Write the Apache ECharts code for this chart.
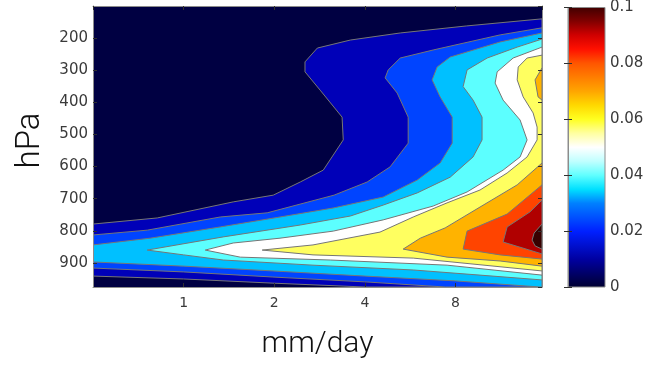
<!DOCTYPE html>
<html>
<head>
<meta charset="utf-8">
<script src="https://cdn.jsdelivr.net/npm/echarts@6/dist/echarts.min.js"></script>
<style>
  html, body { margin: 0; padding: 0; background: #ffffff; }
  #chart { width: 655px; height: 367px; }
</style>
</head>
<body>
<div id="chart"></div>
<script>
// Filled contours of the field on a (rain rate, pressure) plane.
// Every outline below encloses the area where the field is >= its level,
// given as [mm/day, hPa] points; the plot edges close each outline.

const xTicks = [1, 2, 4, 8];
const yTicks = [200, 300, 400, 500, 600, 700, 800, 900];
const colorbarTicks = [0, 0.02, 0.04, 0.06, 0.08, 0.1];

// fill colour of the band that starts at each level
const bandLevels = [0, 0.01, 0.02, 0.03, 0.04, 0.05, 0.06, 0.07, 0.08, 0.09, 0.1];
const bandColors = ['#000042', '#0000b8', '#0044ff', '#00c0ff', '#5cffff', '#ffffff',
                    '#ffff60', '#ffb300', '#ff4400', '#b00000', '#380000'];

const outline001 = [
  [15.5, 140], [8.72, 162], [5.24, 184], [3.58, 206], [2.78, 231], [2.53, 274], [2.53, 305],
  [2.84, 362], [3.36, 446], [3.39, 517], [2.91, 611], [2.44, 648], [1.985, 689], [1.461, 710],
  [0.817, 760], [0.5, 779],
  [0.5, 941], [1.0, 950], [1.98, 963], [4.0, 975], [15.5, 975]
];
const outline002 = [
  [15.5, 168], [11.25, 190], [6.74, 237], [5.24, 262], [4.78, 299], [4.67, 324], [5.12, 371],
  [5.57, 446], [5.57, 527], [4.85, 601], [4.07, 648], [3.16, 689], [1.895, 744], [1.323, 757],
  [0.757, 798], [0.5, 813],
  [0.5, 916], [1.0, 928], [1.98, 944], [4.0, 959], [7.4, 975], [15.5, 975]
];
const outline003 = [
  [15.5, 184], [11.25, 212], [7.68, 259], [6.95, 290], [6.69, 330], [7.11, 383], [7.8, 446],
  [7.8, 527], [7.11, 589], [5.97, 642], [4.6, 695], [3.14, 729], [2.09, 757], [1.323, 788],
  [0.775, 823], [0.5, 844],
  [0.5, 897], [1.0, 910], [1.98, 925], [4.0, 941], [8.0, 956], [15.27, 975], [15.5, 975]
];
const outline004 = [
  [15.5, 203], [12.82, 228], [10.19, 262], [8.74, 299], [8.48, 351], [9.15, 393], [9.8, 446],
  [9.8, 517], [9.15, 570], [7.68, 633], [5.97, 682], [4.6, 720], [3.58, 754], [2.44, 782],
  [1.354, 819], [0.757, 860],
  [1.0, 875], [1.354, 891], [2.69, 907], [5.79, 922], [9.65, 938], [15.5, 953]
];
const outline005 = [
  [15.5, 228], [12.43, 262], [11.0, 305], [10.83, 340], [11.51, 393], [13.11, 455], [13.83, 517],
  [13.11, 570], [11.51, 611], [8.74, 679], [6.74, 723], [4.6, 766], [3.14, 801], [2.09, 823],
  [1.461, 838], [1.18, 860],
  [1.542, 882], [3.07, 891], [7.5, 907], [15.5, 938]
];
const outline006 = [
  [15.5, 253], [13.83, 262], [12.92, 290], [12.82, 330], [13.42, 383], [14.48, 433], [14.93, 477],
  [14.93, 517], [13.83, 570], [11.87, 620], [9.65, 673], [7.5, 713], [5.79, 757], [4.49, 804],
  [2.69, 844], [1.824, 860],
  [2.69, 875], [5.79, 885], [15.5, 925]
];
const outline007Upper = [
  [15.5, 293], [14.7, 330], [15.04, 383], [15.5, 393]
];
const outline007 = [
  [15.5, 589], [12.82, 657], [9.65, 726], [7.39, 791], [6.11, 823], [5.36, 857],
  [7.5, 882], [11.25, 894], [15.5, 910]
];
const outline008 = [
  [15.5, 657], [11.87, 748], [8.74, 801], [8.48, 857], [11.25, 875], [15.5, 888]
];
const outline009 = [
  [15.5, 704], [14.15, 741], [11.87, 788], [11.51, 835], [15.5, 872]
];
const outline010 = [
  [15.5, 779], [14.59, 807], [14.37, 829], [14.7, 847], [15.5, 857]
];

// colour ramp of the colour bar, bottom (0) to top (0.1)
const colormapStops = [
  [0.00, '#000030'], [0.10, '#0000a0'], [0.20, '#0020ff'], [0.30, '#0080ff'],
  [0.35, '#00e0ff'], [0.40, '#60ffff'], [0.45, '#c0ffff'], [0.50, '#ffffff'],
  [0.55, '#ffffa0'], [0.60, '#ffff20'], [0.65, '#ffd800'], [0.70, '#ffa500'],
  [0.80, '#ff5500'], [0.85, '#ff1000'], [0.90, '#d00000'], [0.95, '#800000'],
  [1.00, '#400000']
];

const regions = [
  { level: 0.01, pts: outline001 },
  { level: 0.02, pts: outline002 },
  { level: 0.03, pts: outline003 },
  { level: 0.04, pts: outline004 },
  { level: 0.05, pts: outline005 },
  { level: 0.06, pts: outline006 },
  { level: 0.07, pts: outline007Upper },
  { level: 0.07, pts: outline007 },
  { level: 0.08, pts: outline008 },
  { level: 0.09, pts: outline009 },
  { level: 0.10, pts: outline010 }
];

function bandColor(level) {
  const i = bandLevels.findIndex(l => Math.abs(l - level) < 1e-9);
  return bandColors[i];
}

const X_MIN = 0.5, X_MAX = 15.5, P_TOP = 100, P_BOTTOM = 975;
const labelFont = "'DejaVu Sans', 'Liberation Sans', sans-serif";
const titleFont = "Roboto, 'Liberation Sans', sans-serif";
const frameColor = '#8c8c8c';
const tickColor = '#303030';
const labelColor = '#3a3a3a';

const chart = echarts.init(document.getElementById('chart'), null, { renderer: 'canvas' });

const plotGrid = { left: 93, top: 6, width: 449, height: 281,
  show: true, backgroundColor: bandColors[0], borderWidth: 0 };
const barGrid = { left: 568, top: 6, width: 37, height: 281, show: false };

function xAxisFor(position, showLabels) {
  return {
    type: 'log', logBase: 2, min: X_MIN, max: X_MAX, gridIndex: 0, position: position,
    z: 10,
    axisLine: { show: true, lineStyle: { color: frameColor, width: 1 } },
    axisTick: { show: true, inside: true, length: 4, lineStyle: { color: tickColor } },
    splitLine: { show: false },
    axisLabel: {
      show: showLabels, margin: 9, fontSize: 14, color: labelColor, fontFamily: labelFont,
      showMinLabel: false, showMaxLabel: false,
      formatter: v => (xTicks.some(t => Math.abs(t - v) < 1e-6) ? String(Math.round(v)) : '')
    },
    name: showLabels ? 'mm/day' : '',
    nameLocation: 'middle', nameGap: 42,
    nameTextStyle: { fontSize: 30, fontWeight: 300, fontFamily: titleFont, color: '#111' }
  };
}

function yAxisFor(position, showLabels) {
  return {
    type: 'value', inverse: true, min: P_TOP, max: P_BOTTOM, interval: 100, gridIndex: 0,
    position: position, z: 10,
    axisLine: { show: true, lineStyle: { color: frameColor, width: 1 } },
    axisTick: { show: true, inside: true, length: 4, lineStyle: { color: tickColor } },
    splitLine: { show: false },
    axisLabel: {
      show: showLabels, margin: 5, fontSize: 15, color: labelColor, fontFamily: labelFont,
      showMinLabel: false, showMaxLabel: false,
      formatter: v => (yTicks.indexOf(v) >= 0 ? String(v) : '')
    },
    name: showLabels ? 'hPa' : '',
    nameLocation: 'middle', nameGap: 46, nameRotate: 90,
    nameTextStyle: { fontSize: 33, fontWeight: 300, fontFamily: titleFont, color: '#111',
      padding: [0, 0, 0, 12] }
  };
}

function barAxis(position, showLabels) {
  return {
    type: 'value', min: 0, max: 0.1, interval: 0.02, gridIndex: 1, position: position, z: 10,
    axisLine: { show: true, lineStyle: { color: frameColor, width: 1 } },
    axisTick: { show: true, inside: true, length: 4, lineStyle: { color: tickColor } },
    splitLine: { show: false },
    axisLabel: {
      show: showLabels, margin: 5, fontSize: 15, color: labelColor, fontFamily: labelFont,
      formatter: v => (colorbarTicks.some(t => Math.abs(t - v) < 1e-9) ? String(+v.toFixed(2)) : '')
    }
  };
}

const option = {
  animation: false,
  backgroundColor: '#ffffff',
  grid: [plotGrid, barGrid],
  xAxis: [
    xAxisFor('bottom', true),
    xAxisFor('top', false),
    { type: 'value', min: 0, max: 1, gridIndex: 1, show: false }
  ],
  yAxis: [
    yAxisFor('left', true),
    yAxisFor('right', false),
    barAxis('right', true),
    barAxis('left', false)
  ],
  series: [
    {
      type: 'custom',
      xAxisIndex: 0, yAxisIndex: 0,
      clip: true,
      silent: true,
      data: regions.map((r, i) => [r.pts[0][0], r.pts[0][1], i]),
      renderItem: function (params, api) {
        const r = regions[params.dataIndex];
        return {
          type: 'polygon',
          shape: { points: r.pts.map(p => api.coord(p)) },
          style: { fill: bandColor(r.level), stroke: '#767676', lineWidth: 1 }
        };
      }
    },
    {
      type: 'custom',
      xAxisIndex: 2, yAxisIndex: 2,
      silent: true,
      data: [[0, 0]],
      renderItem: function (params, api) {
        const p0 = api.coord([0, 0]);
        const p1 = api.coord([1, 0.1]);
        return {
          type: 'rect',
          shape: { x: p0[0], y: p1[1], width: p1[0] - p0[0], height: p0[1] - p1[1] },
          style: {
            fill: new echarts.graphic.LinearGradient(0, 1, 0, 0,
              colormapStops.map(s => ({ offset: s[0], color: s[1] }))),
            stroke: frameColor, lineWidth: 1
          }
        };
      }
    }
  ]
};

chart.setOption(option);
</script>
</body>
</html>
